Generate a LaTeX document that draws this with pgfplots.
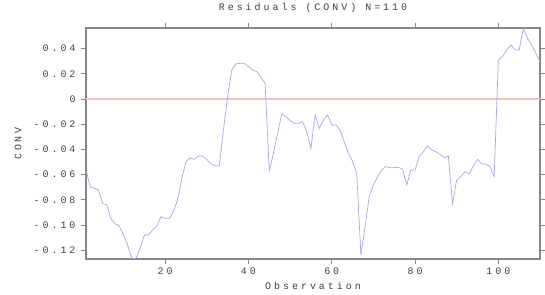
\documentclass[border=0pt]{standalone}
\usepackage{pgfplots}
\pgfplotsset{compat=1.18}
\usepackage{fontspec}
\newfontfamily\chartfont[LetterSpace=30]{Liberation Mono}
\definecolor{serie}{RGB}{165,165,240}
\definecolor{zeroline}{RGB}{242,195,195}
\definecolor{framec}{RGB}{135,135,135}
\begin{document}
\begin{tikzpicture}
\begin{axis}[
  scale only axis, width=454bp, height=231bp,
  xmin=1, xmax=110, ymin=-0.127, ymax=0.0563,
  xtick={20,40,60,80,100}, xticklabels={20,40,60,80,100},
  ytick={-0.12,-0.10,-0.08,-0.06,-0.04,-0.02,0,0.02,0.04},
  yticklabels={-0.12,-0.10,-0.08,-0.06,-0.04,-0.02,0,0.02,0.04},
  tick align=outside, major tick length=5bp,
  axis line style={framec, line width=1.2bp},
  tick style={framec, line width=0.8bp},
  ticklabel style={font=\chartfont\fontsize{10}{12}\selectfont, text=black!75},
  yticklabel style={xshift=-2bp},
  title={Residuals (CONV) N=110},
  title style={font=\chartfont\fontsize{10}{12}\selectfont, text=black!75, at={(0.5,1)}, anchor=center, yshift=14bp},
  xlabel={Observation},
  xlabel style={font=\chartfont\fontsize{10}{12}\selectfont, text=black!75, at={(0.5,0)}, anchor=center, yshift=-27bp},
  ylabel={CONV},
  ylabel style={font=\chartfont\fontsize{10}{12}\selectfont, text=black!75, at={(0,0.5)}, anchor=center, yshift=68bp},
]
\coordinate (bl) at (rel axis cs:0,0);
\coordinate (tr) at (rel axis cs:1,1);
\addplot[zeroline, line width=1.2bp] coordinates {(1,0) (110,0)};
\addplot[serie, line width=0.7bp, mark=none] table {
x y
1 -0.0563
2 -0.0696
3 -0.0710
4 -0.0720
5 -0.0830
6 -0.0840
7 -0.0950
8 -0.0990
9 -0.1010
10 -0.1080
11 -0.1160
12 -0.1265
13 -0.1265
14 -0.1185
15 -0.1080
16 -0.1080
17 -0.1040
18 -0.1010
19 -0.0934
20 -0.0947
21 -0.0947
22 -0.0894
23 -0.0800
24 -0.0630
25 -0.0500
26 -0.0466
27 -0.0479
28 -0.0452
29 -0.0452
30 -0.0480
31 -0.0516
32 -0.0530
33 -0.0530
34 -0.0246
35 0.0019
36 0.0230
37 0.0278
38 0.0283
39 0.0283
40 0.0257
41 0.0230
42 0.0217
43 0.0172
44 0.0124
45 -0.0569
46 -0.0431
47 -0.0272
48 -0.0119
49 -0.0140
50 -0.0172
51 -0.0193
52 -0.0193
53 -0.0180
54 -0.0259
55 -0.0392
56 -0.0127
57 -0.0233
58 -0.0167
59 -0.0127
60 -0.0206
61 -0.0206
62 -0.0246
63 -0.0339
64 -0.0431
65 -0.0497
66 -0.0590
67 -0.1238
68 -0.1013
69 -0.0775
70 -0.0683
71 -0.0616
72 -0.0563
73 -0.0537
74 -0.0545
75 -0.0545
76 -0.0542
77 -0.0558
78 -0.0683
79 -0.0563
80 -0.0563
81 -0.0458
82 -0.0418
83 -0.0373
84 -0.0405
85 -0.0418
86 -0.0439
87 -0.0466
88 -0.0452
89 -0.0833
90 -0.0643
91 -0.0616
92 -0.0577
93 -0.0595
94 -0.0532
95 -0.0479
96 -0.0516
97 -0.0516
98 -0.0537
99 -0.0616
100 0.0310
101 0.0336
102 0.0389
103 0.0429
104 0.0389
105 0.0389
106 0.0561
107 0.0481
108 0.0429
109 0.0362
110 0.0296
};
\end{axis}
\pgfresetboundingbox
\path[use as bounding box] ([shift={(-86bp,-36bp)}]bl) rectangle ([shift={(5bp,28bp)}]tr);
\end{tikzpicture}
\end{document}
